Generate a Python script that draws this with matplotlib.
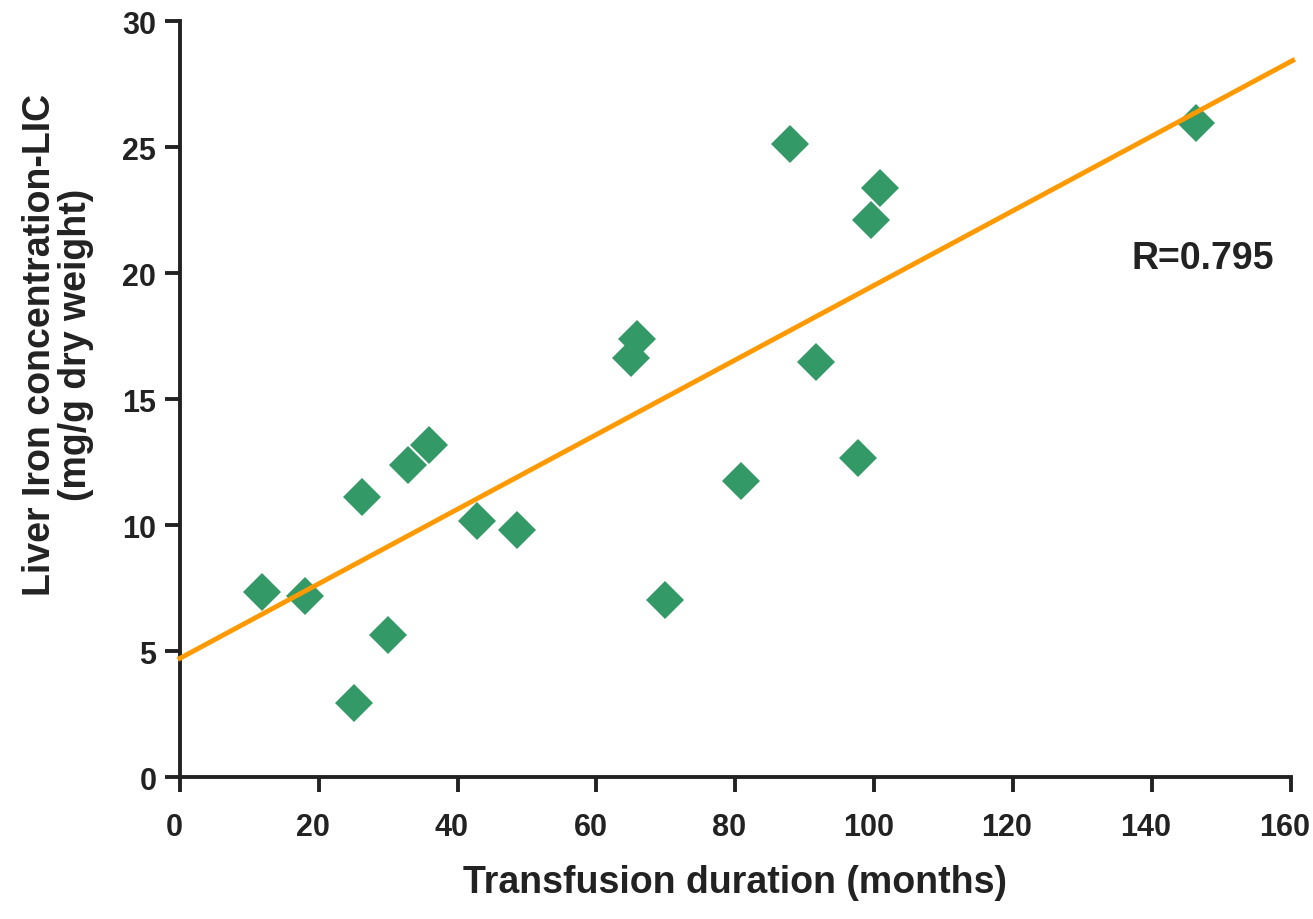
import matplotlib
matplotlib.use("Agg")
import matplotlib.pyplot as plt
import matplotlib.transforms as mtransforms
import numpy as np

# Data
duration = np.array([11.9, 17.96, 26.17, 32.79, 35.90, 42.77, 48.57, 29.92, 25.01,
                     65.86, 64.95, 91.69, 80.80, 97.64, 69.94, 87.89, 100.91, 99.61, 146.41])
lic = np.array([7.34, 7.20, 11.13, 12.40, 13.19, 10.15, 9.82, 5.65, 2.94,
                17.40, 16.63, 16.47, 11.75, 12.65, 7.05, 25.11, 23.39, 22.10, 25.97])

# Trend line end points
trend_x = np.array([0, 160.3])
trend_y = np.array([4.72, 28.44])

plt.rcParams['font.family'] = ['Liberation Sans', 'DejaVu Sans']
plt.rcParams['font.weight'] = 'bold'

fig = plt.figure(figsize=(13.13, 9.2), dpi=100)
ax = fig.add_axes([0.137, 0.154, 0.846, 0.822])

ax.plot(duration, lic, linestyle='none', marker='D', markersize=19,
        color='#339966', markeredgewidth=0, zorder=2)
ax.plot(trend_x, trend_y, color='#FF9900', linewidth=3.5, clip_on=False, zorder=3)

ax.set_xlim(0, 160)
ax.set_ylim(0, 30)
ax.set_xticks(np.arange(0, 161, 20))
ax.set_yticks(np.arange(0, 31, 5))

for s in ['top', 'right']:
    ax.spines[s].set_visible(False)
for s in ['left', 'bottom']:
    ax.spines[s].set_linewidth(2.8)
    ax.spines[s].set_color('#222222')

ax.tick_params(axis='both', direction='out', length=11, width=2.8, color='#222222',
               labelsize=22, labelcolor='#222222')
ax.tick_params(axis='x', pad=14)
ax.tick_params(axis='y', pad=6)

# x tick labels sit a little left of their ticks in the original
shift = mtransforms.ScaledTranslation(-0.06, 0, fig.dpi_scale_trans)
for lbl in ax.get_xticklabels():
    lbl.set_transform(lbl.get_transform() + shift)

ax.set_xlabel('Transfusion duration (months)', fontsize=27, fontweight='bold',
              color='#222222', labelpad=16)
ax.set_ylabel('Liver Iron concentration-LIC\n(mg/g dry weight)', fontsize=27,
              fontweight='bold', color='#222222', linespacing=1.0)
ax.yaxis.set_label_coords(-0.077, 0.573)

ax.text(147.3, 20.6, 'R=0.795', fontsize=27, fontweight='bold', color='#222222',
        ha='center', va='center')

fig.savefig('out.png', dpi=100)
